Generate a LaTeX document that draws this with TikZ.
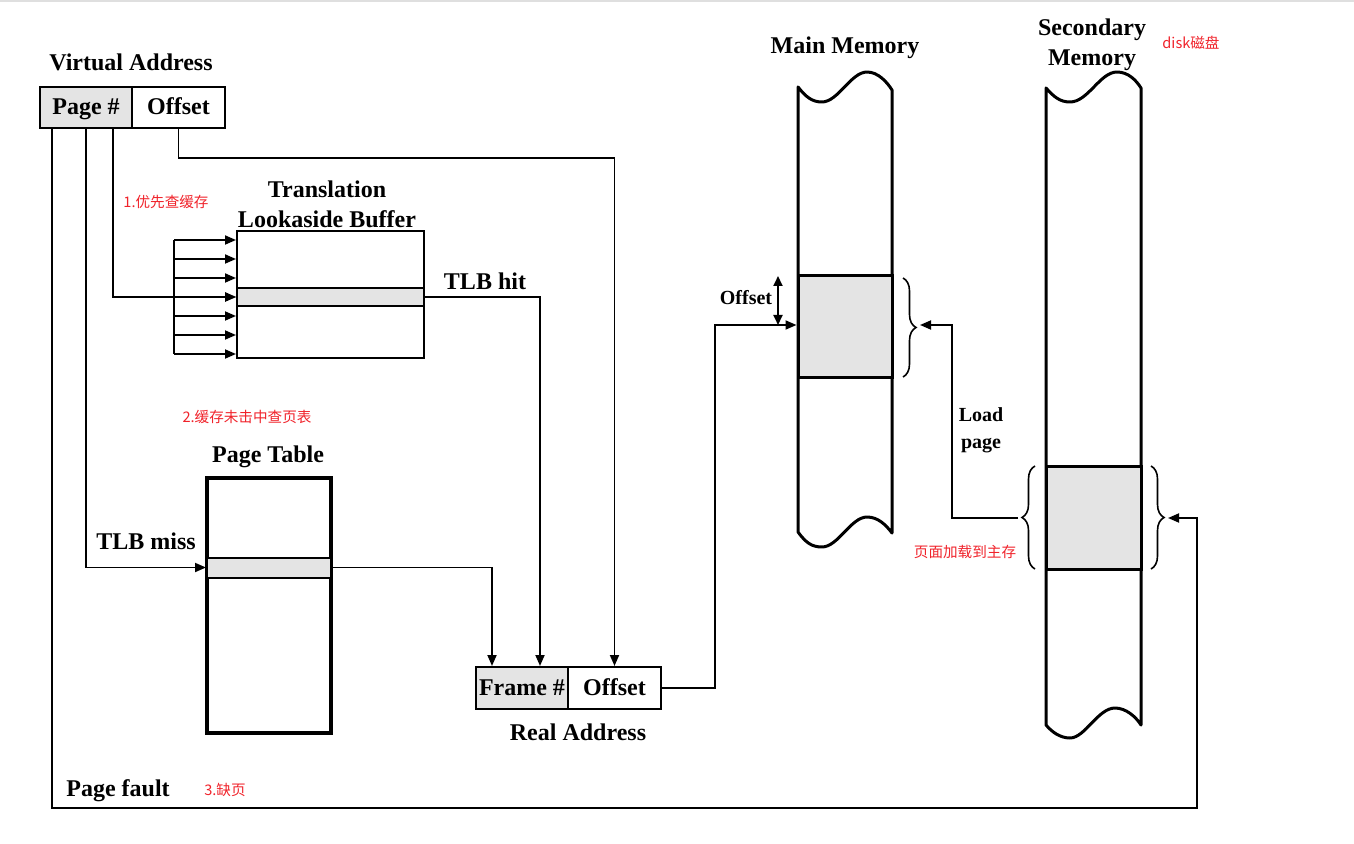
\documentclass[tikz,border=0pt]{standalone}
\usepackage{fontspec}
\setmainfont{Liberation Serif}
\newfontfamily\cjkfont{Noto Sans CJK SC}
\usetikzlibrary{arrows.meta,calc,decorations.pathreplacing}
\definecolor{cellgray}{HTML}{E4E4E4}
\definecolor{notered}{HTML}{F0222A}
\begin{document}
\begin{tikzpicture}[x=0.5pt,y=-0.5pt,
  lbl/.style={font=\fontsize{12}{15}\selectfont\bfseries, inner sep=0, align=center},
  small/.style={font=\fontsize{10}{13.5}\selectfont\bfseries, inner sep=0, align=center},
  cell/.style={draw, line width=1pt, minimum height=20.5pt, inner sep=0, text height=7.6pt, text depth=0.4pt, font=\fontsize{12}{14}\selectfont\bfseries},
  note/.style={font=\cjkfont\fontsize{7.3}{9}\selectfont, text=notered, inner sep=0},
  conn/.style={line width=0.9pt},
  arr/.style={conn, -{Triangle[length=5.5pt,width=4.5pt]}},
  darr/.style={conn, {Triangle[length=5pt,width=4.5pt]}-{Triangle[length=5pt,width=4.5pt]}},
  mem/.style={line width=1.5pt, line join=round},
  blk/.style={draw, fill=cellgray, line width=1.5pt, inner sep=0},
  row/.style={draw, fill=cellgray, line width=1pt, inner sep=0},
  brc/.style={decorate, decoration={brace, amplitude=6.5pt}, line width=0.8pt},
]
\useasboundingbox (0,0) rectangle (1354,844);
\draw[gray!25, line width=1pt] (0,1) -- (1354,1);

% Virtual address
\node[lbl] (valbl) at (131,62) {Virtual Address};
\node[cell, fill=cellgray, minimum width=46pt] (vapage) at (86,107.5) {Page \#};
\node[cell, minimum width=46.5pt] (vaoff) at (178.5,107.5) {Offset};

% TLB
\node[lbl] (tlblbl) at (327,204) {Translation\\Lookaside Buffer};
\node[draw, line width=1pt, minimum width=93.5pt, minimum height=63.5pt, inner sep=0] (tlb) at (330.5,294.5) {};
\node[row, minimum width=93.5pt, minimum height=9pt] (tlbrow) at (330.5,297) {};
\node[lbl] (hitlbl) at (485,281) {TLB hit};

% Page table
\node[lbl] (ptlbl) at (268,457) {Page Table};
\node[draw, line width=1.6pt, minimum width=62pt, minimum height=127.5pt, inner sep=0] (pt) at (269,605.5) {};
\node[row, minimum width=62pt, minimum height=10pt] (ptrow) at (269,567.5) {};
\node[lbl] (misslbl) at (146,541) {TLB miss};

% Real address
\node[cell, fill=cellgray, minimum width=46pt, minimum height=21pt] (raframe) at (522,688) {Frame \#};
\node[cell, minimum width=46.5pt, minimum height=21pt] (raoff) at (614.5,688) {Offset};
\node[lbl] (ralbl) at (578,732) {Real Address};

% Main memory
\node[lbl] (mmlbl) at (845,48) {Main Memory};
\draw[mem] (798,87) .. controls (806,97) and (812,102) .. (822,102)
  .. controls (838,102) and (851,72) .. (867,72)
  .. controls (878,72) and (887,82) .. (892,90) -- (892,533)
  .. controls (886,525) and (878,517) .. (867,517)
  .. controls (851,517) and (838,547) .. (822,547)
  .. controls (812,547) and (806,543) .. (798,532) -- cycle;
\node[blk, minimum width=47pt, minimum height=51pt] (mmblk) at (845,327) {};
\node[small] (offlbl) at (746,298) {Offset};
\draw[brc] (903,278) -- (903,377);

% Secondary memory
\node[lbl] (smlbl) at (1092,45) {Secondary\\Memory};
\draw[mem] (1046,88) .. controls (1054,97) and (1060,102) .. (1070,102)
  .. controls (1088,102) and (1100,72) .. (1117,72)
  .. controls (1128,72) and (1136,80) .. (1141,88) -- (1141,725)
  .. controls (1136,717) and (1126,708) .. (1115,708)
  .. controls (1098,708) and (1085,738) .. (1070,738)
  .. controls (1060,738) and (1052,732) .. (1046,725) -- cycle;
\node[blk, minimum width=47.5pt, minimum height=51.5pt] (smblk) at (1093.5,517.5) {};
\draw[brc] (1035,569) -- (1035,466);
\draw[brc] (1151,466) -- (1151,569);
\node[small] (lplbl) at (981,430) {Load\\page};
\node[lbl] (pflbl) at (118,791) {Page fault};

% coordinates
\coordinate (p1) at ($(vapage.south west)+(13,0)$);
\coordinate (p3) at ($(vapage.south)+(27,0)$);
\coordinate (pfy) at (1197,808);
\coordinate (sbrR) at (1168,518);
\coordinate (sbrL) at (1018,518);
\coordinate (mmbr) at (920,325);
\coordinate (lp) at (952,518);
\coordinate (offy) at (614,158);
\coordinate (fa) at ($(raframe.north west)+(17,0)$);
\coordinate (fb) at ($(raframe.north east)+(-29,0)$);
\coordinate (turn) at (715,325);
\coordinate (mmin) at ($(mmblk.west)+(0,-2)$);
\coordinate (oa) at (778,276);
\coordinate (ob) at (778,325);

% connectors
\draw[arr] (vaoff.south) |- (raoff.north |- offy) -- (raoff.north);
\draw[arr] (p3) |- (tlbrow.west);
\draw[arr] (vapage.south) |- (ptrow.west);
\draw[arr] (p1) |- (pfy) |- (sbrR);
\draw[conn] (174,240) -- (174,354);
\foreach \y in {240,259,278,297,316,335,354}{
  \coordinate (fy) at (174,\y);
  \draw[arr] (fy) -- (fy -| tlb.west);
}
\draw[arr] (ptrow.east) -| (fa);
\draw[arr] (tlbrow.east) -| (fb);
\draw[arr] (raoff.east) -| (turn) -- (mmin);
\draw[darr] (oa) -- (ob);
\draw[arr] (sbrL) -- (lp) |- (mmbr);

% notes
\node[note] (n0) at (1191,43) {disk磁盘};
\node[note] (n1) at (166,202) {1.优先查缓存};
\node[note] (n2) at (247,417) {2.缓存未击中查页表};
\node[note] (n3) at (965,552) {页面加载到主存};
\node[note] (n4) at (225,790) {3.缺页};
\end{tikzpicture}
\end{document}
